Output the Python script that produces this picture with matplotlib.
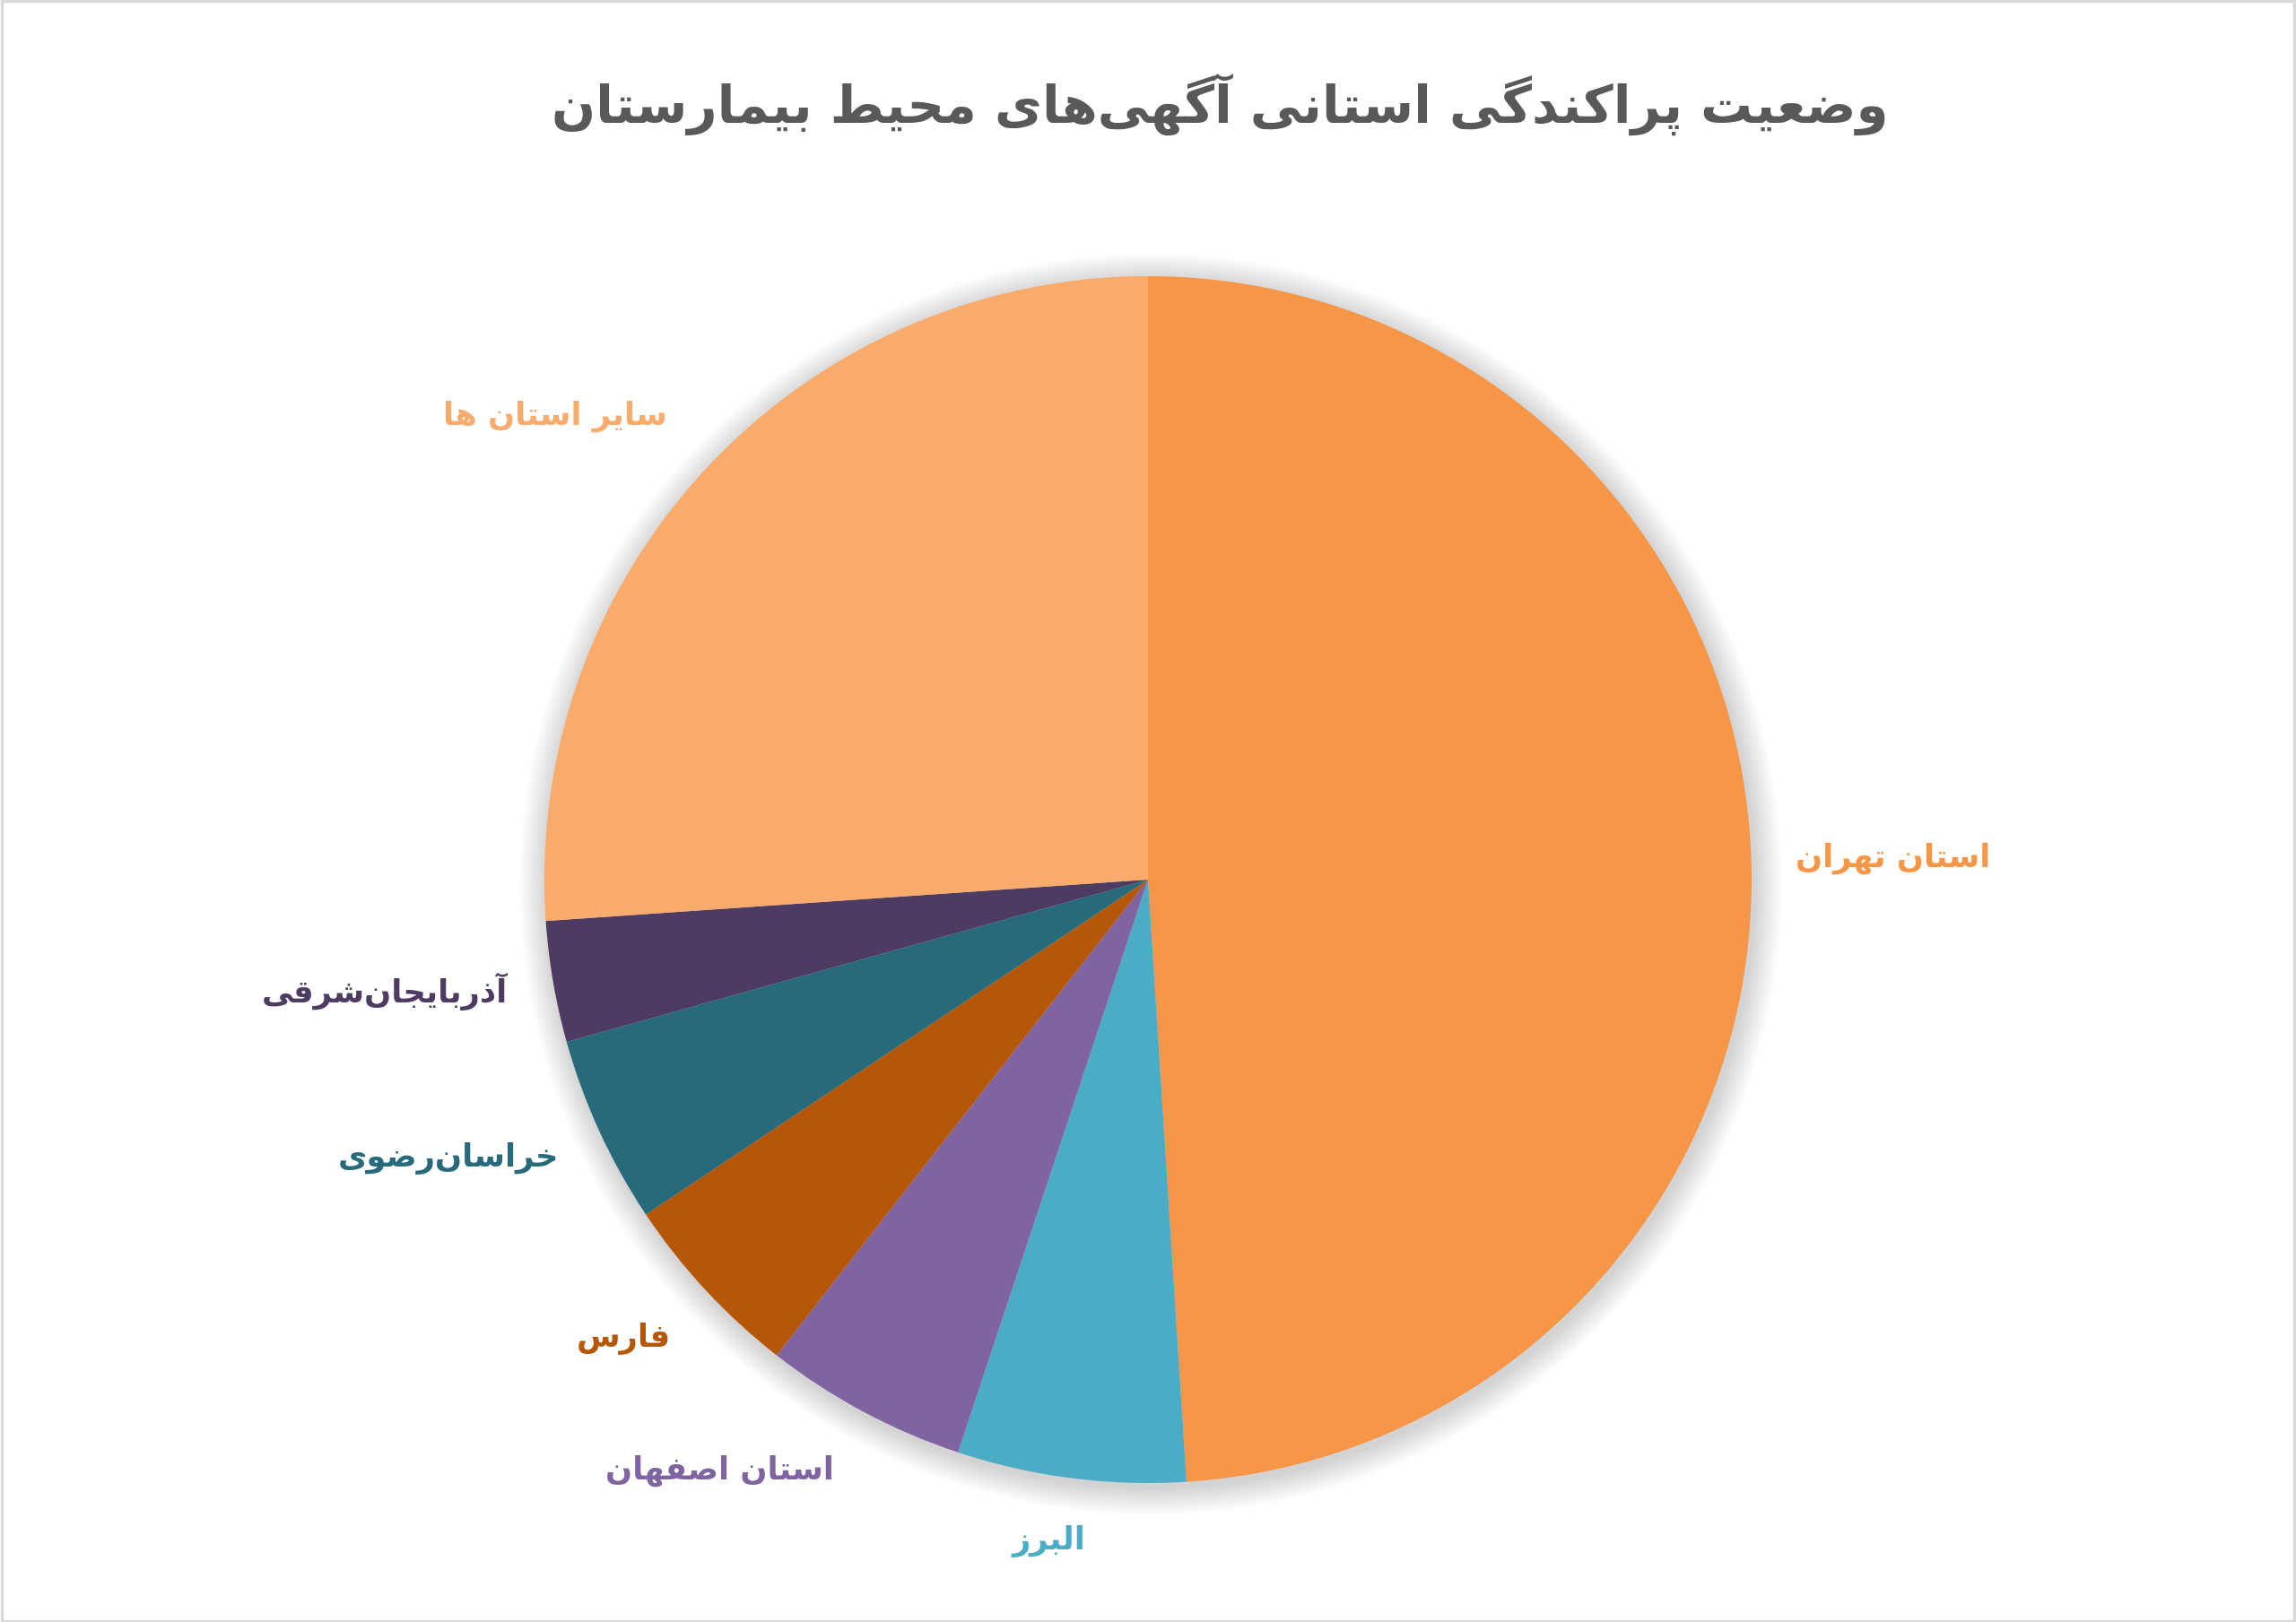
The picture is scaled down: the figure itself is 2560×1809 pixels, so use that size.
import matplotlib
matplotlib.use("Agg")
import matplotlib.pyplot as plt
from matplotlib.patches import Circle, Rectangle

# ---------------- data ----------------
categories = ["استان تهران", "البرز", "استان اصفهان", "فارس",
              "خراسان\u200cرضوی", "آذربایجان\u200cشرقی", "سایر استان ها"]
shares = [48.98, 6.11, 5.45, 5.09, 5.03, 3.24, 26.09]
title_text = "وضعیت پراکندگی استانی آگهی\u200cهای محیط بیمارستان"

# ---------------- style ----------------
colors = ["#F79646", "#4BACC6", "#8064A2", "#B65708", "#276A7C", "#4D3B62", "#F9AB6B"]
# label centres in pixel coordinates (x, y from top)
label_pos = [(2111, 957), (1169, 1719), (802, 1640), (695, 1493),
             (500, 1292), (429, 1106), (619, 464)]

W, H = 2560, 1809
DPI = 200
CX, CY, R = 1280, 981, 673

# ---------------- Arabic/Persian shaping ----------------
FORMS = {
    '\u0627': (0xFE8D, 0xFE8E, None, None),
    '\u0622': (0xFE81, 0xFE82, None, None),
    '\u0628': (0xFE8F, 0xFE90, 0xFE91, 0xFE92),
    '\u067E': (0xFB56, 0xFB57, 0xFB58, 0xFB59),
    '\u062A': (0xFE95, 0xFE96, 0xFE97, 0xFE98),
    '\u062C': (0xFE9D, 0xFE9E, 0xFE9F, 0xFEA0),
    '\u062D': (0xFEA1, 0xFEA2, 0xFEA3, 0xFEA4),
    '\u062E': (0xFEA5, 0xFEA6, 0xFEA7, 0xFEA8),
    '\u062F': (0xFEA9, 0xFEAA, None, None),
    '\u0630': (0xFEAB, 0xFEAC, None, None),
    '\u0631': (0xFEAD, 0xFEAE, None, None),
    '\u0632': (0xFEAF, 0xFEB0, None, None),
    '\u0633': (0xFEB1, 0xFEB2, 0xFEB3, 0xFEB4),
    '\u0634': (0xFEB5, 0xFEB6, 0xFEB7, 0xFEB8),
    '\u0635': (0xFEB9, 0xFEBA, 0xFEBB, 0xFEBC),
    '\u0636': (0xFEBD, 0xFEBE, 0xFEBF, 0xFEC0),
    '\u0637': (0xFEC1, 0xFEC2, 0xFEC3, 0xFEC4),
    '\u0639': (0xFEC9, 0xFECA, 0xFECB, 0xFECC),
    '\u0641': (0xFED1, 0xFED2, 0xFED3, 0xFED4),
    '\u0642': (0xFED5, 0xFED6, 0xFED7, 0xFED8),
    '\u06A9': (0xFB8E, 0xFB8F, 0xFB90, 0xFB91),
    '\u06AF': (0xFB92, 0xFB93, 0xFB94, 0xFB95),
    '\u0644': (0xFEDD, 0xFEDE, 0xFEDF, 0xFEE0),
    '\u0645': (0xFEE1, 0xFEE2, 0xFEE3, 0xFEE4),
    '\u0646': (0xFEE5, 0xFEE6, 0xFEE7, 0xFEE8),
    '\u0647': (0xFEE9, 0xFEEA, 0xFEEB, 0xFEEC),
    '\u0648': (0xFEED, 0xFEEE, None, None),
    '\u06CC': (0xFBFC, 0xFBFD, 0xFBFE, 0xFBFF),
}


def shape(s):
    out = []
    n = len(s)
    for i, c in enumerate(s):
        if c not in FORMS:
            out.append(c)
            continue
        f = FORMS[c]
        prev = s[i - 1] if i > 0 else None
        nxt = s[i + 1] if i < n - 1 else None
        jp = prev in FORMS and FORMS[prev][2] is not None
        jn = f[2] is not None and nxt in FORMS
        if jp and jn:
            g = f[3]
        elif jp:
            g = f[1]
        elif jn:
            g = f[2]
        else:
            g = f[0]
        out.append(chr(g))
    return ''.join(out).replace('\u200c', '')[::-1]


plt.rcParams['font.family'] = ['DejaVu Sans']

fig = plt.figure(figsize=(W / DPI, H / DPI), dpi=DPI)
fig.patch.set_facecolor("white")
ax = fig.add_axes([0, 0, 1, 1])

cy = H - CY

# soft shadow
for k in range(22, 0, -1):
    ax.add_patch(Circle((CX + 3, cy - 5), R + k * 1.4, facecolor="black",
                        edgecolor="none", alpha=0.009, zorder=1))

wedges, _ = ax.pie(shares, colors=colors, startangle=90, counterclock=False,
                   center=(CX, cy), radius=R,
                   wedgeprops=dict(edgecolor="none", linewidth=0, zorder=2))
for w in wedges:
    w.set_zorder(2)

for name, col, (lx, ly) in zip(categories, colors, label_pos):
    ax.text(lx, H - ly, shape(name), color=col, fontsize=12.7, fontweight="bold",
            ha="center", va="center", zorder=3)

ax.text(1360, H - 116, shape(title_text), color="#595959", fontsize=20.8,
        fontweight="bold", ha="center", va="center")

ax.set_xlim(0, W)
ax.set_ylim(0, H)
ax.set_aspect("auto")
ax.axis("off")

fig.add_artist(Rectangle((0.0006, 0.0008), 0.9988, 0.9984, transform=fig.transFigure,
                         fill=False, edgecolor="#D9D9D9", linewidth=1.2))

fig.savefig("out.png", dpi=DPI, facecolor="white")
